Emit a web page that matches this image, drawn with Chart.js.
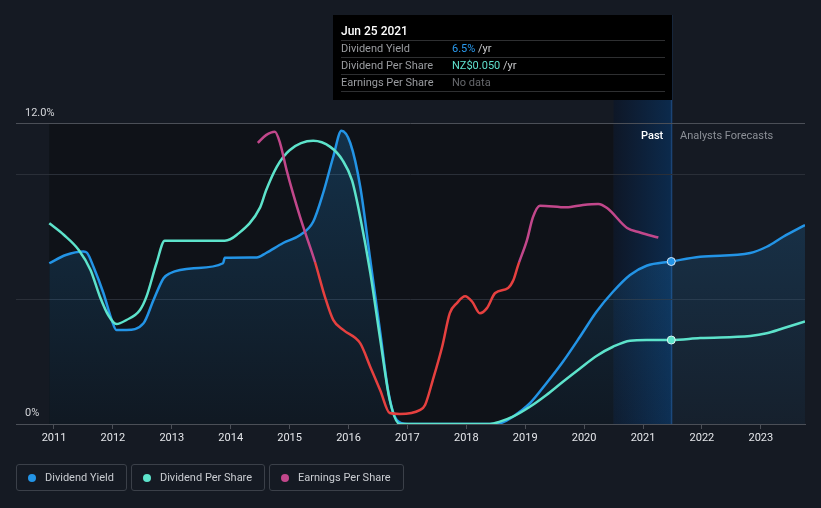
<!DOCTYPE html>
<html>
<head>
<meta charset="utf-8">
<script src="https://cdn.jsdelivr.net/npm/chart.js@4.4.7/dist/chart.umd.min.js"></script>
<style>
  html, body { margin: 0; padding: 0; background: #151a23; }
  #wrap { position: relative; width: 821px; height: 508px; font-family: Roboto, sans-serif; }
  #chart { position: absolute; left: 0; top: 0; }
  .tip { position: absolute; left: 333px; top: 15px; width: 339px; height: 85px; background: #000; }
  .tip .title { position: absolute; left: 8px; top: 9px; color: #fff; font-size: 12px; font-weight: 500; }
  .tip .row { position: absolute; left: 8px; width: 324px; height: 16px; border-top: 1px solid #2e2f31; font-size: 11px; line-height: 16px; color: #9a9ca0; }
  .tip .row span.v { position: absolute; left: 111px; }
  .tip .unit { color: #c9cacc; }
  .legend { position: absolute; left: 16px; top: 464px; display: flex; }
  .legend div { height: 27px; box-sizing: border-box; border: 1px solid #3b4049; border-radius: 3px; margin-right: 4px; padding: 0 12px 0 11px; display: flex; align-items: center; color: #c9ccd1; font-size: 11px; }
  .legend i { display: inline-block; width: 8px; height: 8px; border-radius: 50%; margin-right: 9px; }
  .tag { position: absolute; top: 129px; font-size: 11px; }
</style>
</head>
<body>
<div id="wrap">
  <canvas id="chart" width="821" height="508"></canvas>
  <div class="tip">
    <div class="title">Jun 25 2021</div>
    <div class="row" style="top:25px">Dividend Yield<span class="v"><span style="color:#2a9bf0">6.5%</span> <span class="unit">/yr</span></span></div>
    <div class="row" style="top:42px">Dividend Per Share<span class="v"><span style="color:#5fe0cd">NZ$0.050</span> <span class="unit">/yr</span></span></div>
    <div class="row" style="top:59px">Earnings Per Share<span class="v" style="color:#66686c">No data</span></div>
    <div class="row" style="top:76px"></div>
  </div>
  <div class="tag" style="left:641px;color:#fff;font-weight:500">Past</div>
  <div class="tag" style="left:680px;color:#8c9097">Analysts Forecasts</div>
  <div class="legend">
    <div><i style="background:#2394e6"></i>Dividend Yield</div>
    <div><i style="background:#5de3cb"></i>Dividend Per Share</div>
    <div><i style="background:#c2478b"></i>Earnings Per Share</div>
  </div>
</div>
<script>
var yearTicks = [2011, 2012, 2013, 2014, 2015, 2016, 2017, 2018, 2019, 2020, 2021, 2022, 2023];
var yieldTicks = [0, 5, 10, 12];
var yieldTickLabels = { 0: '0%', 12: '12.0%' };

// dividend yield, % per year
var yieldYears = [
  2010.92, 2011.2, 2011.5, 2011.56, 2011.67, 2011.84, 2011.98, 2012.06, 2012.23, 2012.52,
  2012.69, 2012.86, 2012.97, 2013.37, 2013.87, 2013.9, 2014.44, 2014.6, 2014.89,
  2015.18, 2015.4, 2015.57, 2015.74, 2015.88, 2016.03, 2016.2, 2016.37, 2016.54, 2016.68,
  2016.82, 2017.0, 2018.4, 2018.6, 2018.79, 2019.08, 2019.36, 2019.64, 2019.93, 2020.21,
  2020.49, 2020.78, 2021.06, 2021.48, 2021.97, 2022.82, 2023.1, 2023.38, 2023.75,
];
var yieldValues = [
  6.43, 6.76, 6.9, 6.85, 6.29, 5.23, 4.16, 3.76, 3.76, 4.03,
  4.96, 5.83, 6.03, 6.23, 6.43, 6.65, 6.66, 6.84, 7.24,
  7.56, 8.09, 9.24, 10.68, 11.73, 11.24, 9.48, 6.56, 3.64, 1.24,
  0.16, 0, 0, 0.05, 0.29, 0.83, 1.63, 2.49, 3.49, 4.49,
  5.29, 5.96, 6.33, 6.5, 6.69, 6.84, 7.09, 7.49, 7.96,
];

// dividend per share, NZ$
var dpsYears = [
  2010.92, 2011.17, 2011.42, 2011.62, 2011.78, 2011.92, 2012.06, 2012.23, 2012.46, 2012.57,
  2012.74, 2012.88, 2013.9, 2014.1, 2014.5, 2014.6, 2014.78, 2015.0, 2015.4, 2015.69, 2015.9,
  2016.06, 2016.2, 2016.37, 2016.54, 2016.7, 2016.87, 2018.4, 2018.57, 2018.79, 2019.08,
  2019.36, 2019.64, 2019.93, 2020.21, 2020.49, 2020.78, 2021.06, 2021.48, 2021.97, 2022.82,
  2023.1, 2023.38, 2023.75,
];
var dpsValues = [
  0.1195, 0.1125, 0.1036, 0.0917, 0.0758, 0.0649, 0.0595, 0.0619, 0.0679, 0.0758,
  0.0957, 0.1091, 0.1091, 0.1125, 0.129, 0.139, 0.153, 0.163, 0.1686, 0.165, 0.157,
  0.145, 0.123, 0.09, 0.05, 0.0143, 0, 0, 0.0014, 0.0044, 0.0103,
  0.0173, 0.0252, 0.0331, 0.0405, 0.046, 0.0496, 0.05, 0.05, 0.0512, 0.0524,
  0.054, 0.057, 0.061,
];

// earnings per share, NZ$
var epsYears = [
  2014.46, 2014.6, 2014.75, 2014.84, 2014.95, 2015.18, 2015.43, 2015.6, 2015.74, 2015.91,
  2016.2, 2016.37, 2016.54, 2016.7, 2016.87, 2017.21, 2017.3, 2017.43, 2017.59, 2017.72,
  2017.84, 2017.98, 2018.1, 2018.23, 2018.35, 2018.49, 2018.71, 2018.8, 2018.88, 2019.03,
  2019.13, 2019.25, 2019.7, 2019.98, 2020.24, 2020.39, 2020.73, 2020.95, 2021.26,
];
var epsValues = [
  0.1674, 0.172, 0.174, 0.167, 0.151, 0.123, 0.0966, 0.0757, 0.062, 0.056,
  0.048, 0.034, 0.02, 0.0065, 0.006, 0.0083, 0.0113, 0.026, 0.046, 0.066,
  0.072, 0.076, 0.0728, 0.066, 0.069, 0.078, 0.081, 0.0857, 0.0946, 0.1095,
  0.123, 0.13, 0.129, 0.1304, 0.131, 0.1286, 0.1167, 0.114, 0.111,
];

var todayYear = 2021.48;
var bandStart = 2020.5;
var epsThreshold = 0.0965;

function toPoints(xs, ys) {
  return xs.map(function (x, i) {
    return { x: x, y: ys[i] };
  });
}

var bgPlugin = {
  id: 'bg',
  beforeDraw: function (chart) {
    var c = chart.ctx;
    var a = chart.chartArea;
    var x = chart.scales.x;
    var y = chart.scales.y;
    var top12 = y.getPixelForValue(12);
    var x0 = x.getPixelForValue(yieldYears[0]);
    var xb = x.getPixelForValue(bandStart);
    var xt = x.getPixelForValue(todayYear);
    c.save();
    c.fillStyle = '#151a23';
    c.fillRect(0, 0, chart.width, chart.height);
    c.fillStyle = '#0f1218';
    c.fillRect(x0, top12, xb - x0, a.bottom - top12);
    var g = c.createLinearGradient(xb, 0, xt, 0);
    g.addColorStop(0, '#0e1727');
    g.addColorStop(1, '#0c2a4c');
    c.fillStyle = g;
    c.fillRect(xb, a.top, xt - xb, a.bottom - a.top);
    c.fillStyle = '#1b4476';
    c.fillRect(xt - 0.5, 15, 1.5, a.bottom - 15);
    c.restore();
  },
  afterDraw: function (chart) {
    var c = chart.ctx;
    var y = chart.scales.y;
    c.save();
    c.fillStyle = '#d4d6da';
    c.font = '11px Roboto';
    c.textBaseline = 'middle';
    yieldTicks.forEach(function (v) {
      if (yieldTickLabels[v]) {
        c.fillText(yieldTickLabels[v], 25, y.getPixelForValue(v) - 11);
      }
    });
    c.restore();
  },
};

var ctx = document.getElementById('chart').getContext('2d');

new Chart(ctx, {
  type: 'line',
  data: {
    datasets: [
      {
        label: 'Dividend Yield',
        data: toPoints(yieldYears, yieldValues),
        yAxisID: 'y',
        borderColor: '#2394e6',
        borderWidth: 2.5,
        fill: 'origin',
        backgroundColor: function (context) {
          var a = context.chart.chartArea;
          if (!a) return 'rgba(35,148,230,0.1)';
          var g = context.chart.ctx.createLinearGradient(0, a.top, 0, a.bottom);
          g.addColorStop(0, 'rgba(35,148,230,0.26)');
          g.addColorStop(1, 'rgba(35,148,230,0.05)');
          return g;
        },
        cubicInterpolationMode: 'monotone',
        pointRadius: function (c) {
          return c.raw && c.raw.x === todayYear ? 4 : 0;
        },
        pointBackgroundColor: '#2394e6',
        pointBorderColor: '#dbe8f5',
        pointBorderWidth: 1,
        order: 3,
      },
      {
        label: 'Dividend Per Share',
        data: toPoints(dpsYears, dpsValues),
        yAxisID: 'y2',
        borderColor: '#5de3cb',
        borderWidth: 2.5,
        fill: false,
        cubicInterpolationMode: 'monotone',
        pointRadius: function (c) {
          return c.raw && c.raw.x === todayYear ? 4 : 0;
        },
        pointBackgroundColor: '#5de3cb',
        pointBorderColor: '#dbf5ef',
        pointBorderWidth: 1,
        order: 2,
      },
      {
        label: 'Earnings Per Share',
        data: toPoints(epsYears, epsValues),
        yAxisID: 'y2',
        borderColor: function (context) {
          var chart = context.chart;
          var a = chart.chartArea;
          if (!a) return '#c2478b';
          var py = chart.scales.y2.getPixelForValue(epsThreshold);
          var f = (py - a.top) / (a.bottom - a.top);
          var g = chart.ctx.createLinearGradient(0, a.top, 0, a.bottom);
          g.addColorStop(0, '#c2478b');
          g.addColorStop(f, '#c2478b');
          g.addColorStop(f, '#e6403f');
          g.addColorStop(1, '#e6403f');
          return g;
        },
        borderWidth: 2.5,
        fill: false,
        cubicInterpolationMode: 'monotone',
        pointRadius: 0,
        order: 1,
      },
    ],
  },
  options: {
    responsive: false,
    animation: false,
    events: [],
    layout: {
      padding: { left: 16, right: 16, top: 99, bottom: 0 },
    },
    plugins: {
      legend: { display: false },
      tooltip: { enabled: false },
    },
    scales: {
      x: {
        type: 'linear',
        min: 2010.355,
        max: 2023.75,
        afterBuildTicks: function (s) {
          s.ticks = yearTicks.map(function (v) {
            return { value: v };
          });
        },
        afterFit: function (s) {
          s.height = 84;
        },
        ticks: {
          color: '#e4e6ea',
          font: { family: 'Roboto', size: 11 },
          padding: 3,
          maxRotation: 0,
          autoSkip: false,
          callback: function (v) {
            return String(v);
          },
        },
        grid: {
          drawOnChartArea: false,
          tickLength: 5,
          color: '#4b4f57',
        },
        border: { color: '#4b4f57' },
      },
      y: {
        min: 0,
        max: 13,
        afterBuildTicks: function (s) {
          s.ticks = yieldTicks.map(function (v) {
            return { value: v };
          });
        },
        afterFit: function (s) {
          s.width = 0;
        },
        ticks: { display: false },
        grid: {
          drawTicks: false,
          color: function (c) {
            return c.tick && c.tick.value === 12 ? '#4b4f57' : '#2a2f38';
          },
        },
        border: { display: false },
      },
      y2: {
        display: false,
        min: 0,
        max: 0.1935,
      },
    },
  },
  plugins: [bgPlugin],
});
</script>
</body>
</html>
